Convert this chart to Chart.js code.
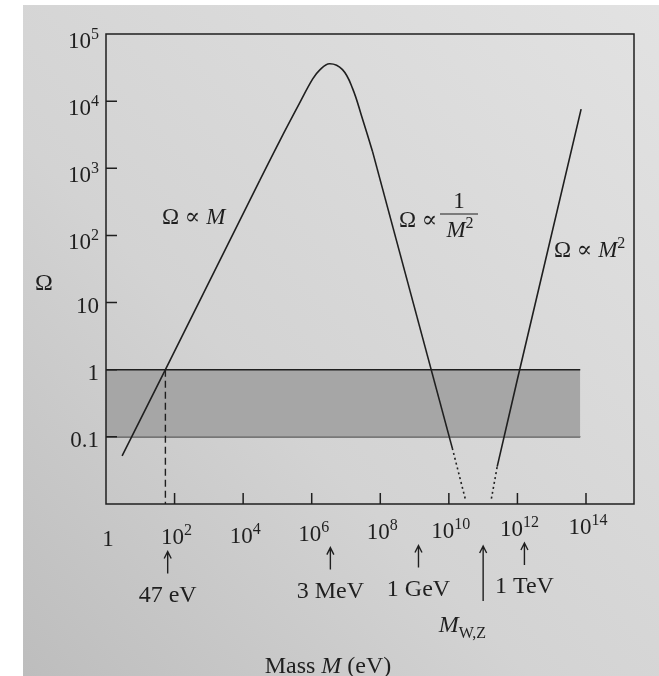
<!DOCTYPE html>
<html lang="en">
<head>
<meta charset="UTF-8">
<title>Omega vs mass</title>
<script src="https://cdn.jsdelivr.net/npm/chart.js"></script>
<style>
  html, body { margin: 0; padding: 0; }
  body { width: 659px; height: 676px; background: #fff; position: relative; overflow: hidden; }
  .page {
    position: absolute; left: 23px; top: 5px; right: 0; bottom: 0;
    background: linear-gradient(to top right, #bdbdbd 0%, #d3d3d3 40%, #e2e2e2 100%);
  }
  #omegaChart { position: absolute; left: 0; top: 0; }
</style>
</head>
<body>
<div class="page"></div>
<canvas id="omegaChart" width="659" height="676"></canvas>
<script>
// axis ticks (mass in eV on x, Omega on y, both logarithmic)
const massTickValues = [1, 1e2, 1e4, 1e6, 1e8, 1e10, 1e12, 1e14];
const massTickLabels = ['1', '10^2', '10^4', '10^6', '10^8', '10^10', '10^12', '10^14'];
const omegaTickValues = [0.1, 1, 10, 1e2, 1e3, 1e4, 1e5];
const omegaTickLabels = ['0.1', '1', '10', '10^2', '10^3', '10^4', '10^5'];

// Omega ~ M branch (straight)
const lightMass  = [2.95, 54, 3.0e4];
const lightOmega = [0.052, 1.0, 650];

// rounded top around a few MeV
const peakMass  = [3.0e4, 1.17e5, 4.5e5, 1.07e6, 1.7e6, 3.3e6, 7.9e6, 1.55e7, 3.0e7, 5.9e7];
const peakOmega = [650, 2570, 9.5e3, 2.14e4, 2.9e4, 3.6e4, 2.95e4, 1.55e4, 5.5e3, 1.8e3];

// Omega ~ 1/M^2 branch (straight)
const heavyMass  = [5.9e7, 1.26e10];
const heavyOmega = [1.8e3, 0.068];

// dotted parts near the W/Z mass
const dotLeftMass  = [1.26e10, 3.0e10];
const dotLeftOmega = [0.068, 0.012];
const dotRightMass  = [1.74e11, 2.57e11];
const dotRightOmega = [0.012, 0.036];

// Omega ~ M^2 branch
const riseMass  = [2.57e11, 9.8e11, 7.2e13];
const riseOmega = [0.036, 0.69, 7.6e3];

// shaded band 0.1 < Omega < 1
const bandMass = [1, 6.8e13];
const bandTop = [1, 1];
const bandBottom = [0.1, 0.1];

// dashed drop at the 47 eV crossing
const dropMass = [54, 54];
const dropOmega = [1, 0.01];

// arrows under the axis
const markerMass = [63, 3.5e6, 1.3e9, 1.6e12];
const markerLabels = ['47 eV', '3 MeV', '1 GeV', '1 TeV'];
const gaugeMass = 1.0e11;

const ink = '#1f1f1f';
const serif = '"Liberation Serif", "DejaVu Serif", serif';

function pts(xs, ys) {
  return xs.map((x, i) => ({ x: x, y: ys[i] }));
}

function fontOf(p) {
  return (p.italic ? 'italic ' : '') + (p.size || 23) + 'px ' + serif;
}

function drawRich(ctx, parts, x, baseline, align) {
  let w = 0;
  parts.forEach(p => { ctx.font = fontOf(p); p.w = ctx.measureText(p.text).width; w += p.w; });
  let cx = align === 'right' ? x - w : align === 'center' ? x - w / 2 : x;
  ctx.textAlign = 'left';
  ctx.textBaseline = 'alphabetic';
  parts.forEach(p => {
    ctx.font = fontOf(p);
    ctx.fillText(p.text, cx, baseline - (p.rise || 0));
    cx += p.w;
  });
}

function powerParts(label) {
  const bits = label.split('^');
  const parts = [{ text: bits[0], size: 23 }];
  if (bits[1]) parts.push({ text: bits[1], size: 16, rise: 9 });
  return parts;
}

function arrowUp(ctx, x, top, bottom) {
  ctx.beginPath();
  ctx.moveTo(x, bottom);
  ctx.lineTo(x, top);
  ctx.moveTo(x - 3.5, top + 7);
  ctx.lineTo(x, top);
  ctx.lineTo(x + 3.5, top + 7);
  ctx.stroke();
}

// page is photographed slightly tilted, lower text sags to the left
function tilt(x) {
  return -0.024 * (x - 106);
}

const figurePlugin = {
  id: 'figureText',
  afterDraw(chart) {
    const ctx = chart.ctx;
    const xs = chart.scales.x, ys = chart.scales.y;
    const a = chart.chartArea;
    ctx.save();
    ctx.strokeStyle = ink;
    ctx.fillStyle = ink;
    ctx.lineWidth = 1.5;
    ctx.strokeRect(a.left, a.top, a.right - a.left, a.bottom - a.top);

    // inward ticks
    ctx.beginPath();
    massTickValues.forEach(v => {
      if (v === 1) return;
      const px = xs.getPixelForValue(v);
      ctx.moveTo(px, a.bottom);
      ctx.lineTo(px, a.bottom - 11);
    });
    omegaTickValues.forEach(v => {
      if (v === 1e5) return;
      const py = ys.getPixelForValue(v);
      ctx.moveTo(a.left, py);
      ctx.lineTo(a.left + 11, py);
    });
    ctx.stroke();

    // tick labels
    massTickValues.forEach((v, i) => {
      const px = xs.getPixelForValue(v);
      drawRich(ctx, powerParts(massTickLabels[i]), px + 2, 546 + tilt(px), 'center');
    });
    omegaTickValues.forEach((v, i) => {
      const py = ys.getPixelForValue(v);
      const isPow = omegaTickLabels[i].indexOf('^') >= 0;
      drawRich(ctx, powerParts(omegaTickLabels[i]), 99, py + (isPow ? 14 : 10.5), 'right');
    });

    // axis titles
    drawRich(ctx, [{ text: 'Ω', size: 24 }], 44, 290, 'center');
    drawRich(ctx, [
      { text: 'Mass ', size: 24 },
      { text: 'M', size: 24, italic: true },
      { text: ' (eV)', size: 24 }
    ], 328, 673, 'center');

    // curve labels
    drawRich(ctx, [{ text: 'Ω ∝ ' }, { text: 'M', italic: true }], 162, 224, 'left');
    drawRich(ctx, [{ text: 'Ω ∝' }], 399, 227, 'left');
    drawRich(ctx, [{ text: '1' }], 459, 208, 'center');
    ctx.beginPath();
    ctx.lineWidth = 1.2;
    ctx.moveTo(440, 214);
    ctx.lineTo(478, 214);
    ctx.stroke();
    drawRich(ctx, [{ text: 'M', italic: true }, { text: '2', size: 16, rise: 9 }], 460, 237, 'center');
    drawRich(ctx, [{ text: 'Ω ∝ ' }, { text: 'M', italic: true }, { text: '2', size: 16, rise: 9 }], 554, 257, 'left');

    // arrows and energy labels
    ctx.lineWidth = 1.4;
    markerMass.forEach((m, i) => {
      const px = xs.getPixelForValue(m);
      const t = tilt(px);
      arrowUp(ctx, px, 553 + t, 575 + t);
      drawRich(ctx, [{ text: markerLabels[i], size: 24 }], px, 603 + t, 'center');
    });
    const gx = xs.getPixelForValue(gaugeMass);
    arrowUp(ctx, gx, 546, 601);
    drawRich(ctx, [
      { text: 'M', size: 24, italic: true },
      { text: 'W,Z', size: 16, rise: -6 }
    ], gx + 3, 632, 'right');

    ctx.restore();
  }
};

const lineStyle = {
  borderColor: ink,
  borderWidth: 1.6,
  pointRadius: 0,
  fill: false,
  order: 0
};

new Chart(document.getElementById('omegaChart'), {
  type: 'line',
  data: {
    datasets: [
      Object.assign({ data: pts(lightMass, lightOmega) }, lineStyle),
      Object.assign({ data: pts(peakMass, peakOmega), tension: 0.4 }, lineStyle),
      Object.assign({ data: pts(heavyMass, heavyOmega) }, lineStyle),
      Object.assign({ data: pts(dotLeftMass, dotLeftOmega), borderDash: [2, 3] }, lineStyle),
      Object.assign({ data: pts(dotRightMass, dotRightOmega), borderDash: [2, 3] }, lineStyle),
      Object.assign({ data: pts(riseMass, riseOmega) }, lineStyle),
      Object.assign({}, lineStyle, { data: pts(dropMass, dropOmega), borderDash: [7, 4], borderWidth: 1.4, order: 1 }),
      {
        data: pts(bandMass, bandTop),
        borderColor: ink, borderWidth: 1.5, pointRadius: 0,
        fill: '+1', backgroundColor: 'rgb(166,166,166)', order: 5
      },
      {
        data: pts(bandMass, bandBottom),
        borderColor: ink, borderWidth: 1.5, pointRadius: 0,
        fill: false, order: 6
      }
    ]
  },
  options: {
    responsive: false,
    animation: false,
    layout: { padding: { left: 106, top: 34, right: 25, bottom: 172 } },
    scales: {
      x: { type: 'logarithmic', min: 1, max: Math.pow(10, 15.4), display: false },
      y: { type: 'logarithmic', min: 0.01, max: 1e5, display: false }
    },
    plugins: {
      legend: { display: false },
      tooltip: { enabled: false }
    }
  },
  plugins: [figurePlugin]
});
</script>
</body>
</html>
